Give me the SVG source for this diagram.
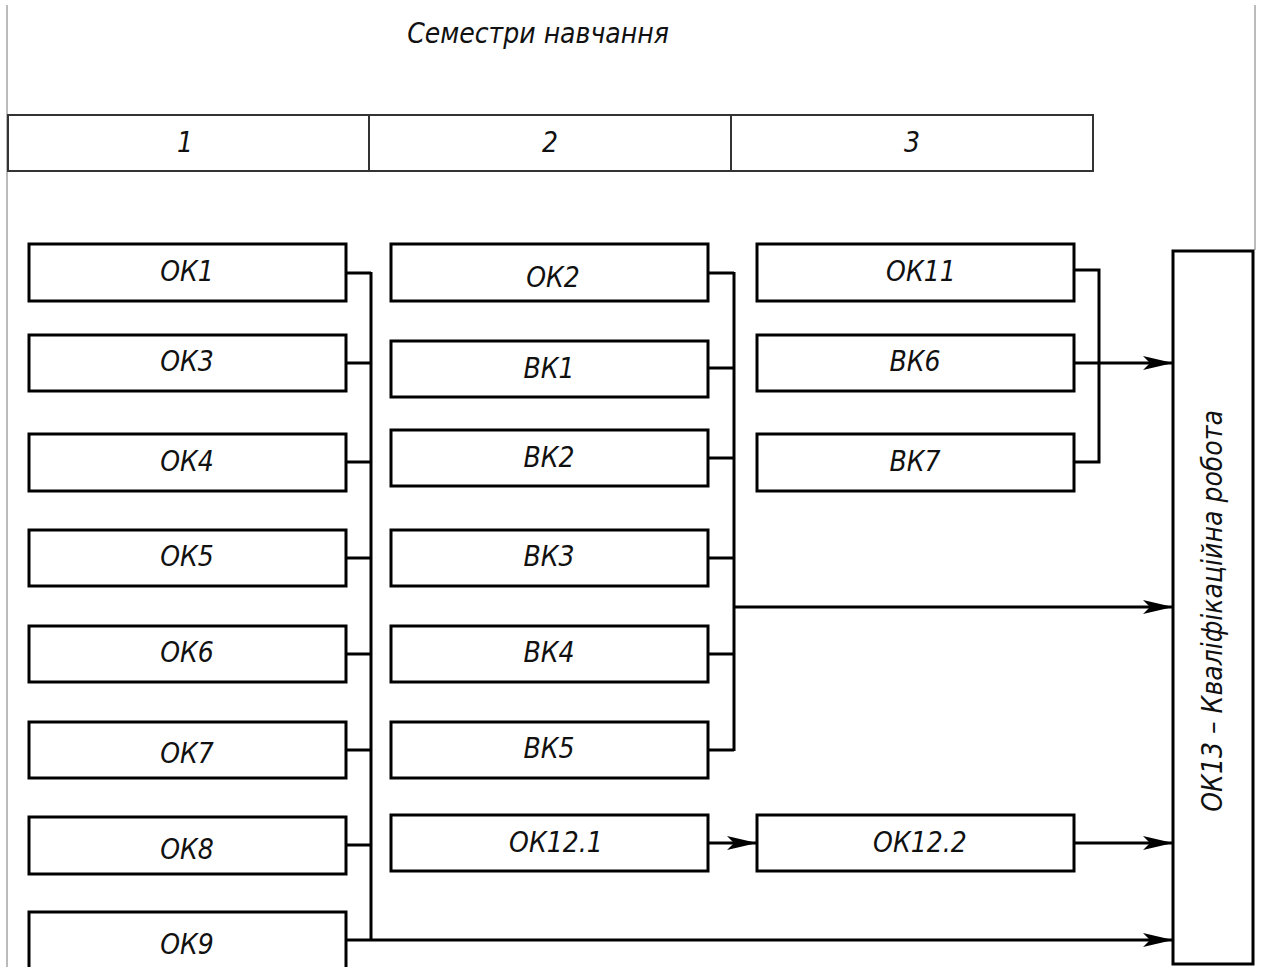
<svg xmlns="http://www.w3.org/2000/svg" width="1263" height="967" viewBox="0 0 1263 967">
<style>
.box{fill:#fff;stroke:#000;stroke-width:3}
.hdr{fill:none;stroke:#333;stroke-width:2}
.ln{fill:none;stroke:#000;stroke-width:3}
.t{font-family:"Liberation Sans Narrow","DejaVu Sans Condensed","Liberation Sans",sans-serif;font-style:italic;font-size:28px;fill:#111;text-anchor:middle;dominant-baseline:central}
.edge{stroke:#bbb;stroke-width:2;fill:none}
</style>
<defs>
<marker id="ah" markerWidth="30" markerHeight="14" refX="30" refY="7" orient="auto" markerUnits="userSpaceOnUse">
<path d="M0,0 L30,7 L0,14 L7,7 Z" fill="#000"/>
</marker>
</defs>
<rect width="1263" height="967" fill="#fff"/>
<line class="edge" x1="7" y1="5" x2="7" y2="967"/>
<line class="edge" x1="1255" y1="5" x2="1255" y2="250"/>
<g id="header">
<text class="t" x="538" y="33" font-size="26">Семестри навчання</text>
<rect class="hdr" x="8" y="115" width="1085" height="56"/>
<line class="hdr" x1="369" y1="115" x2="369" y2="171"/>
<line class="hdr" x1="731" y1="115" x2="731" y2="171"/>
<text class="t" x="185" y="142">1</text>
<text class="t" x="550" y="142">2</text>
<text class="t" x="912" y="142">3</text>
</g>
<g id="connectors">
<line class="ln" x1="371" y1="272" x2="371" y2="941"/>
<path class="ln" d="M346,273H371M346,363H371M346,462H371M346,558H371M346,654H371M346,750H371M346,845H371"/>
<line class="ln" x1="346" y1="940" x2="1173" y2="940" marker-end="url(#ah)"/>
<line class="ln" x1="734" y1="272" x2="734" y2="751"/>
<path class="ln" d="M708,273H734M708,368H734M708,458H734M708,558H734M708,654H734M708,750H734"/>
<line class="ln" x1="734" y1="607" x2="1173" y2="607" marker-end="url(#ah)"/>
<path class="ln" d="M1074,270H1099V462H1074"/>
<line class="ln" x1="1074" y1="363" x2="1173" y2="363" marker-end="url(#ah)"/>
<line class="ln" x1="708" y1="843" x2="757" y2="843" marker-end="url(#ah)"/>
<line class="ln" x1="1074" y1="843" x2="1173" y2="843" marker-end="url(#ah)"/>
</g>
<g id="OK1"><rect class="box" x="29" y="244" width="317" height="57"/><text class="t" x="187" y="271">ОК1</text></g>
<g id="OK3"><rect class="box" x="29" y="335" width="317" height="56"/><text class="t" x="187" y="361">ОК3</text></g>
<g id="OK4"><rect class="box" x="29" y="434" width="317" height="57"/><text class="t" x="187" y="461">ОК4</text></g>
<g id="OK5"><rect class="box" x="29" y="530" width="317" height="56"/><text class="t" x="187" y="556">ОК5</text></g>
<g id="OK6"><rect class="box" x="29" y="626" width="317" height="56"/><text class="t" x="187" y="652">ОК6</text></g>
<g id="OK7"><rect class="box" x="29" y="722" width="317" height="56"/><text class="t" x="187" y="753">ОК7</text></g>
<g id="OK8"><rect class="box" x="29" y="817" width="317" height="57"/><text class="t" x="187" y="849">ОК8</text></g>
<g id="OK9"><rect class="box" x="29" y="912" width="317" height="70"/><text class="t" x="187" y="944">ОК9</text></g>
<g id="OK2"><rect class="box" x="391" y="244" width="317" height="57"/><text class="t" x="553" y="277">ОК2</text></g>
<g id="BK1"><rect class="box" x="391" y="341" width="317" height="56"/><text class="t" x="549" y="368">ВК1</text></g>
<g id="BK2"><rect class="box" x="391" y="430" width="317" height="56"/><text class="t" x="549" y="457">ВК2</text></g>
<g id="BK3"><rect class="box" x="391" y="530" width="317" height="56"/><text class="t" x="549" y="556">ВК3</text></g>
<g id="BK4"><rect class="box" x="391" y="626" width="317" height="56"/><text class="t" x="549" y="652">ВК4</text></g>
<g id="BK5"><rect class="box" x="391" y="722" width="317" height="56"/><text class="t" x="549" y="748">ВК5</text></g>
<g id="OK12_1"><rect class="box" x="391" y="815" width="317" height="56"/><text class="t" x="556" y="842">ОК12.1</text></g>
<g id="OK11"><rect class="box" x="757" y="244" width="317" height="57"/><text class="t" x="921" y="271">ОК11</text></g>
<g id="BK6"><rect class="box" x="757" y="335" width="317" height="56"/><text class="t" x="915" y="361">ВК6</text></g>
<g id="BK7"><rect class="box" x="757" y="434" width="317" height="57"/><text class="t" x="915" y="461">ВК7</text></g>
<g id="OK12_2"><rect class="box" x="757" y="815" width="317" height="56"/><text class="t" x="920" y="842">ОК12.2</text></g>
<g id="OK13"><rect class="box" x="1173" y="251" width="80" height="713" stroke-width="2.5"/><text class="t" transform="translate(1212,611) rotate(-90)" font-size="27">ОК13 – Кваліфікаційна робота</text></g>
</svg>
